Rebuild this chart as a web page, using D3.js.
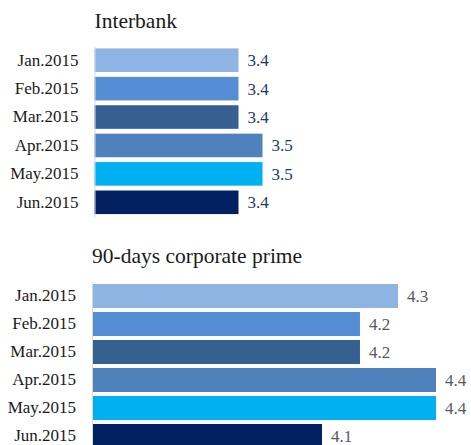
<!DOCTYPE html>
<html>
<head>
<meta charset="utf-8">
<script src="https://cdn.jsdelivr.net/npm/d3@7"></script>
<style>
  body { margin: 0; background: #fff; }
  svg text { font-family: "Liberation Serif", serif; }
</style>
</head>
<body>
<div id="canvas"></div>
<script>
"use strict"

let drawingWidth = 471;
let drawingHeight = 445;

/* Chart data */
let months = ["Jan.2015", "Feb.2015", "Mar.2015", "Apr.2015", "May.2015", "Jun.2015"];
let interbankValues = [3.4, 3.4, 3.4, 3.5, 3.5, 3.4];
let primeValues = [4.3, 4.2, 4.2, 4.4, 4.4, 4.1];
let barColors = ["#8EB4E3", "#558ED5", "#376092", "#4F81BD", "#00B0F0", "#002060"];

let drawing = d3.select("#canvas")
    .append("svg")
    .attr("width", drawingWidth)
    .attr("height", drawingHeight);

/* One small bar panel: title, axis line, bars, labels */
function drawPanel(title, values, opts) {
    let x = d3.scaleLinear()
        .domain(opts.domain)
        .range([opts.left, opts.right]);

    let y = d3.scaleBand()
        .domain(months)
        .range([opts.top, opts.bottom])
        .paddingInner(opts.padding)
        .paddingOuter(opts.padding / 2);

    let panel = drawing.append("g");

    panel.append("text")
        .attr("x", opts.left)
        .attr("y", opts.titleY)
        .attr("font-size", 21.5)
        .attr("fill", "#1a1a1a")
        .text(title);

    panel.selectAll("rect.bar")
        .data(values)
        .join("rect")
        .attr("class", "bar")
        .attr("x", x(opts.domain[0]))
        .attr("y", (d, i) => y(months[i]))
        .attr("width", d => x(d) - x(opts.domain[0]))
        .attr("height", y.bandwidth())
        .attr("fill", (d, i) => barColors[i]);

    // left axis with category labels
    let axis = d3.axisLeft(y).tickSize(0).tickPadding(opts.labelPad);
    let axisGroup = panel.append("g")
        .attr("transform", `translate(${opts.left},0)`)
        .call(axis);
    axisGroup.select(".domain").attr("stroke", "#d9d9d9").attr("stroke-width", 1);
    axisGroup.selectAll("text")
        .attr("font-family", "Liberation Serif")
        .attr("font-size", 17)
        .attr("fill", "#1a1a1a");

    // value labels
    panel.selectAll("text.value")
        .data(values)
        .join("text")
        .attr("class", "value")
        .attr("x", d => x(d) + 9)
        .attr("y", (d, i) => y(months[i]) + y.bandwidth() / 2 + 0.5)
        .attr("dominant-baseline", "central")
        .attr("font-size", 17)
        .attr("fill", opts.valueColor)
        .text(d => d.toFixed(1));
}

drawPanel("Interbank", interbankValues, {
    domain: [2.8, 3.5], left: 94.5, right: 262.5,
    top: 46, bottom: 216.5, padding: 0.17,
    titleY: 28, labelPad: 16, valueColor: "#1F3864"
});

drawPanel("90-days corporate prime", primeValues, {
    domain: [3.495, 4.4], left: 92, right: 436,
    top: 282, bottom: 450, padding: 0.143,
    titleY: 263, labelPad: 16, valueColor: "#595959"
});
</script>
</body>
</html>
